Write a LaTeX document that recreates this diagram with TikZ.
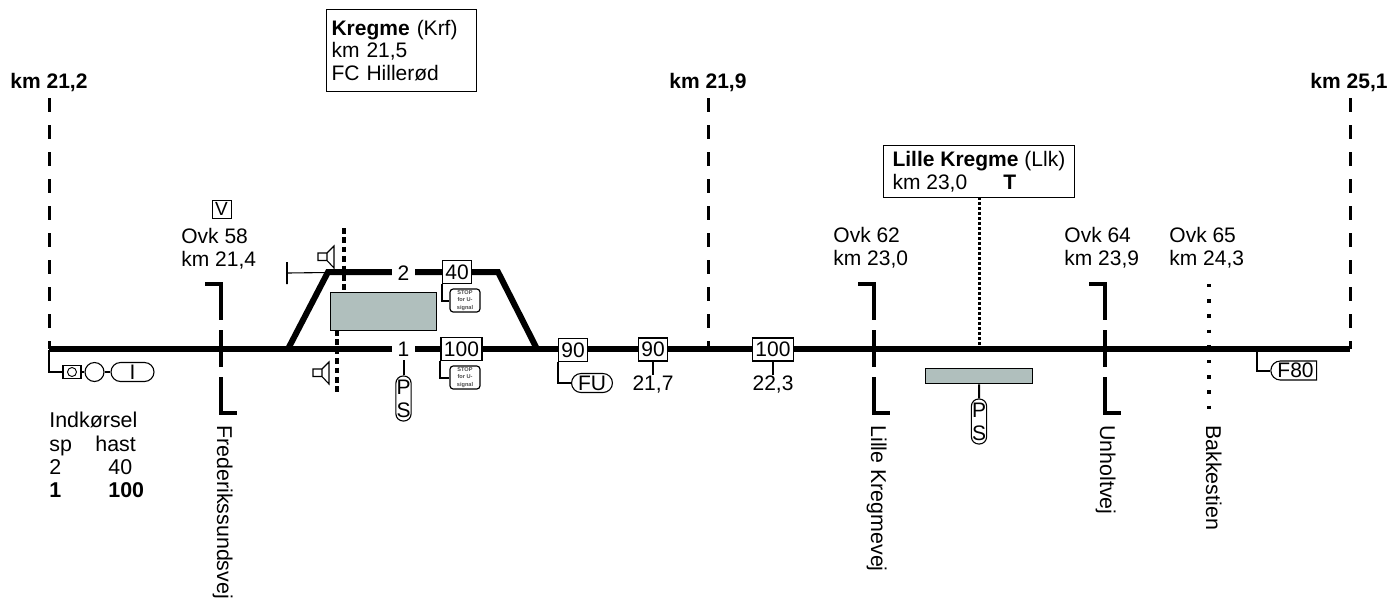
\documentclass[tikz,border=0pt]{standalone}
\usepackage{fontspec}
\setmainfont{Liberation Sans}
\usetikzlibrary{positioning,shapes.misc}
\definecolor{kmInk}{HTML}{000000}
\definecolor{kmPerron}{HTML}{B0BFBD}
\newcommand{\lblfont}{\fontsize{10.5}{11.4}\selectfont}
\newcommand{\bigfont}{\fontsize{10.7}{11.4}\selectfont}
\tikzset{
  track/.style     ={kmInk,line width=3pt,line join=miter},
  kmline/.style    ={kmInk,line width=1.5pt,dash pattern=on 6.8pt off 6.7pt},
  road/.style      ={kmInk,line width=1.8pt,dash pattern=on 26pt off 5pt on 18.5pt off 5pt on 26pt},
  foot/.style      ={kmInk,line width=1.8pt,dash pattern=on 2.8pt off 1.9pt},
  dots/.style      ={kmInk,line width=1.7pt,dash pattern=on 1.7pt off 5.9pt},
  halt/.style      ={kmInk,line width=1.5pt,dash pattern=on 1.3pt off 1.2pt},
  stem/.style      ={kmInk,line width=1pt},
  thin/.style      ={kmInk,line width=0.55pt},
  lbl/.style       ={font=\lblfont,text=kmInk,inner sep=0pt},
  kmlbl/.style     ={lbl,font=\lblfont\bfseries,anchor=base},
  ovk/.style       ={lbl,align=left,anchor=north west},
  vlbl/.style      ={lbl,font=\bigfont,rotate=-90,anchor=north west},
  tablbl/.style    ={lbl,font=\bigfont,anchor=base west},
  stationbox/.style={lbl,draw=kmInk,line width=0.55pt,fill=white,align=left,
                     anchor=north west,inner xsep=2.5pt},
  speed/.style     ={lbl,draw=kmInk,line width=0.7pt,fill=white,minimum height=11.4pt,
                     inner xsep=1.5pt},
  perron/.style    ={draw=kmInk,line width=0.7pt,fill=kmPerron,anchor=north west,inner sep=0pt},
  pill/.style      ={lbl,draw=kmInk,line width=0.55pt,fill=white,rounded rectangle,
                     minimum height=9.5pt,inner xsep=1.5pt},
  pillv/.style     ={lbl,draw=kmInk,line width=0.55pt,fill=white,rounded corners=3.6pt,
                     minimum width=7.6pt,minimum height=22.5pt,align=center,
                     font=\fontsize{10.5}{11}\selectfont,inner sep=0pt},
  stopbox/.style   ={draw=kmInk,line width=0.6pt,fill=white,rounded corners=1.6pt,
                     minimum width=15pt,minimum height=11.5pt,inner sep=0pt,align=center,
                     font=\fontsize{2.8}{3.6}\selectfont\bfseries,text=kmInk!70},
  tracknum/.style  ={lbl,fill=white,minimum width=11.5pt,minimum height=11pt},
}
\newcommand{\speaker}[2]{%
  \draw[thin,fill=white,shift={(#1,#2)}] (0,0) rectangle (9,7.5)
    (9,0) -- (16,-7) -- (16,15) -- (9,7.5);}
\begin{document}
\begin{tikzpicture}[x=0.5pt,y=-0.5pt]
\useasboundingbox (0,0) rectangle (1397,601);

% km posts
\node[kmlbl] (kmA) at (49,88) {km 21,2};
\node[kmlbl] (kmB) at (708,88) {km 21,9};
\node[kmlbl] (kmC) at (1349,88) {km 25,1};
\coordinate (railA) at (49,349);
\coordinate (railB) at (708,349);
\coordinate (railC) at (1350,349);
\draw[kmline] (49,98) -- (railA);
\draw[kmline] (708,98) -- (railB);
\draw[kmline] (1350,98) -- (railC);

% perrons and foot crossings
\draw[foot] (344,228) -- (344,292);
\draw[foot] (337,330) -- (337,393);
\node[perron,minimum width=53pt,minimum height=19pt] (perronA) at (330,292) {};
\node[perron,minimum width=53.5pt,minimum height=7.5pt] (perronB) at (925,368) {};

% tracks
\draw[track] (railA) -- (railC);
\draw[track] (288,349) -- (328,272) -- (498,272) -- (537,349);

% roads
\draw[road] (205,284) -- (221,284) -- (221,413) -- (237,413);
\draw[road] (858,284) -- (874,284) -- (874,413) -- (890,413);
\draw[road] (1089,284) -- (1105,284) -- (1105,413) -- (1122,413);
\draw[dots] (1209,284) -- (1209,410);
\draw[halt] (979,197) -- (979,346);

% station boxes
\node[stationbox,text width=70pt,minimum height=41pt] (kregme) at (326,9)
  {\textbf{Kregme} (Krf)\\km 21,5\\FC Hillerød};
\node[stationbox,inner xsep=4.5pt,text width=86.5pt,minimum height=26pt,
      align=flush left] (lillekregme) at (883,145)
  {\mbox{\textbf{Lille Kregme} (Llk)}\\km 23,0\hspace{18pt}\textbf{T}};

% overkoersler
\node[lbl,draw=kmInk,line width=0.45pt,minimum width=9.5pt,minimum height=9pt,
      font=\fontsize{9.5}{10}\selectfont] (ovkV) at (221.5,209) {V};
\node[ovk] (ovkA) at (181,228) {Ovk 58\\km 21,4};
\node[ovk] (ovkB) at (833,227) {Ovk 62\\km 23,0};
\node[ovk] (ovkC) at (1064,227) {Ovk 64\\km 23,9};
\node[ovk] (ovkD) at (1169,227) {Ovk 65\\km 24,3};
\node[vlbl] (vejA) at (233,425) {Frederikssundsvej};
\node[vlbl] (vejB) at (887,425) {Lille Kregmevej};
\node[vlbl] (vejC) at (1116,425) {Unholtvej};
\node[vlbl] (vejD) at (1222,425) {Bakkestien};

% track numbers and speed signs
\node[tracknum] (sporB) at (403.5,273) {2};
\node[tracknum] (sporA) at (403.5,349) {1};
\node[speed] (sB) at (457,272) {40};
\node[speed] (sA) at (461.5,349) {100};
\node[speed] (sC) at (573,350) {90};
\node[speed] (sD) at (653,349.5) {90};
\node[speed] (sE) at (773,349.5) {100};
\node[lbl,anchor=north] (kmD) at (653,375) {21,7};
\node[lbl,anchor=north] (kmE) at (773,375) {22,3};
\draw[stem] (sD) -- (kmD);
\draw[stem] (sE) -- (kmE);

\node[stopbox] (stopB) at (465,300.5) {STOP\\for U-\\signal};
\node[stopbox] (stopA) at (465,377.5) {STOP\\for U-\\signal};
\draw[stem] (sB.south west) |- (stopB.west);
\draw[stem] (sA.south west) |- (stopA.west);

\node[pill,minimum width=19pt] (fu) at (592,383) {FU};
\draw[stem] (sC.south west) |- (fu.west);

\node[pillv] (psA) at (403.5,398.5) {P\\[0.5pt]S};
\node[pillv] (psB) at (979,421.5) {P\\[0.5pt]S};
\draw[stem] (sporA) -- (psA);
\draw[stem] (perronB) -- (psB);

% buffer stop and speakers
\node[inner sep=0pt,minimum width=0pt,minimum height=11pt,draw=kmInk,line width=0.55pt] (stopper) at (287,273) {};
\coordinate (sporEnd) at (328,272.5);
\draw[thin] (stopper) -- (sporEnd);
\speaker{318}{253}
\speaker{313}{369}

% signal at entry
\node[lbl,draw=kmInk,line width=0.55pt,minimum width=9pt,minimum height=6.5pt] (sigbox) at (72,372) {};
\node[draw=kmInk,line width=0.45pt,circle,minimum size=4.5pt,inner sep=0pt] (siglamp) at (72,372) {};
\node[draw=kmInk,line width=0.55pt,circle,minimum size=9.5pt,inner sep=0pt] (sigring) at (94.5,372) {};
\node[pill,minimum width=24.5pt] (sigpill) at (132.5,372) {I};
\coordinate (sigrail) at (49,350);
\draw[stem] (sigrail) |- (sigbox);
\draw[thin] (sigbox) -- (sigring);
\draw[thin] (sigring) -- (sigpill);

% F80
\node[pill,rounded rectangle right arc=none,minimum width=22.5pt] (fEighty) at (1295.5,370.5) {F80};
\coordinate (frail) at (1257,350);
\draw[stem] (frail) |- (fEighty);

% entry table
\node[tablbl] (indk) at (49,427) {Indkørsel};
\node[tablbl] (tabA) at (49,451) {sp};
\node[tablbl] (tabB) at (95,451) {hast};
\node[tablbl] (tabC) at (49,474) {2};
\node[tablbl] (tabD) at (108,474) {40};
\node[tablbl,font=\bigfont\bfseries] (tabE) at (49,497) {1};
\node[tablbl,font=\bigfont\bfseries] (tabF) at (108,497) {100};
\end{tikzpicture}
\end{document}
